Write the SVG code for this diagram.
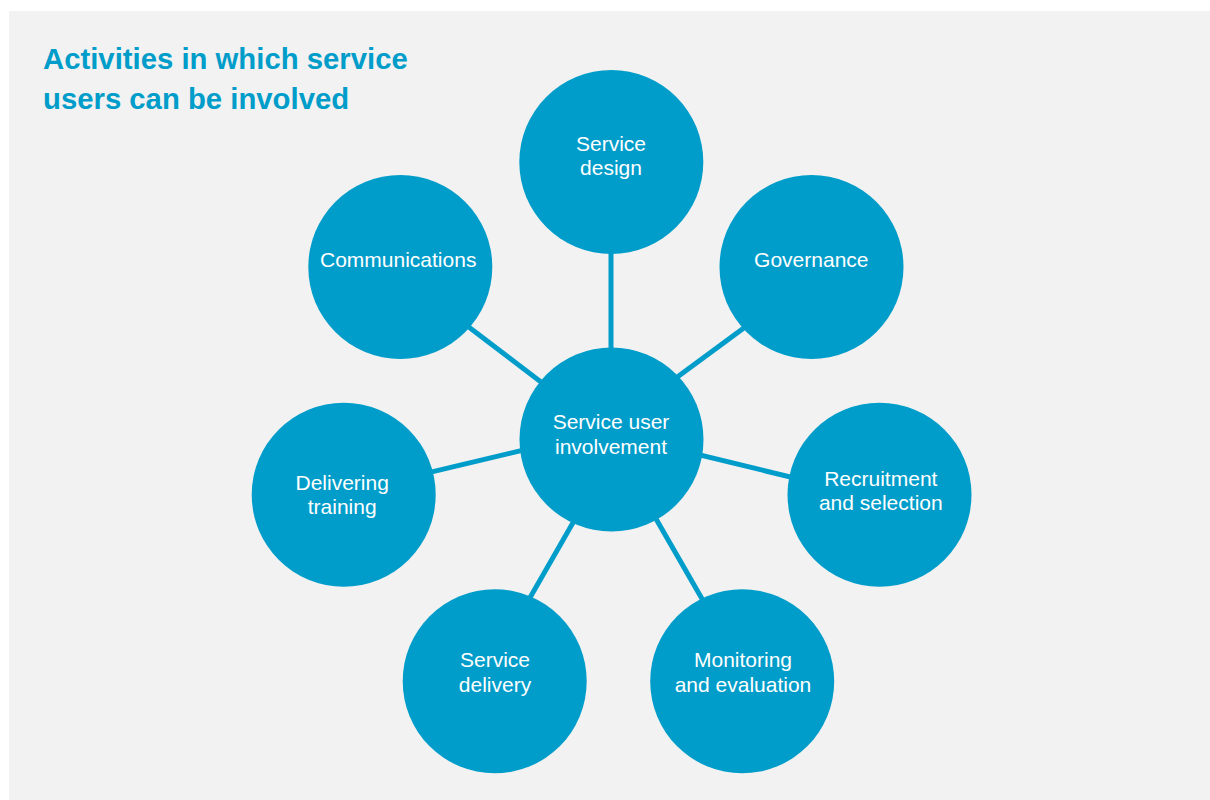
<svg xmlns="http://www.w3.org/2000/svg" width="1210" height="800" viewBox="0 0 1210 800">
<style>
.bg{fill:#f2f2f2}
.title{font-family:"Liberation Sans",Arial,sans-serif;font-weight:bold;font-size:29.3px;fill:#009dca}
.node circle{fill:#009dca}
.node text{font-family:"Liberation Sans",Arial,sans-serif;font-size:21px;fill:#ffffff;text-anchor:middle}
.edges line{stroke:#009dca;stroke-width:5}
</style>
<rect class="bg" x="9" y="11" width="1201" height="789"/>
<text class="title" x="43" y="69">Activities in which service</text>
<text class="title" x="43" y="109">users can be involved</text>
<g id="connectors" class="edges">
<line x1="611" y1="439.5" x2="611" y2="162"/>
<line x1="611.5" y1="425.5" x2="811.5" y2="278"/>
<line x1="611.5" y1="435.7" x2="400.3" y2="275"/>
<line x1="611.5" y1="429" x2="343.7" y2="492.9"/>
<line x1="611.5" y1="433.5" x2="879.5" y2="498.6"/>
<line x1="620.7" y1="439.5" x2="482" y2="681.3"/>
<line x1="610.4" y1="439.5" x2="749.4" y2="681.3"/>
</g>
<g id="node-center" class="node">
<circle cx="611.5" cy="439.5" r="92"/>
<text x="611" y="429.3">Service user</text>
<text x="611" y="454">involvement</text>
</g>
<g id="node-service-design" class="node">
<circle cx="611.3" cy="162" r="92"/>
<text x="611" y="150.7">Service</text>
<text x="611" y="174.5">design</text>
</g>
<g id="node-governance" class="node">
<circle cx="811.5" cy="267" r="92"/>
<text x="811.3" y="266.7">Governance</text>
</g>
<g id="node-communications" class="node">
<circle cx="400.3" cy="267" r="92"/>
<text x="398.2" y="266.7">Communications</text>
</g>
<g id="node-delivering-training" class="node">
<circle cx="343.7" cy="494.7" r="92"/>
<text x="342.2" y="490">Delivering</text>
<text x="342.2" y="513.5">training</text>
</g>
<g id="node-recruitment" class="node">
<circle cx="879.5" cy="494.7" r="92"/>
<text x="880.8" y="485.7">Recruitment</text>
<text x="880.8" y="510">and selection</text>
</g>
<g id="node-service-delivery" class="node">
<circle cx="494.7" cy="681.3" r="92"/>
<text x="495" y="667.3">Service</text>
<text x="495" y="691.5">delivery</text>
</g>
<g id="node-monitoring" class="node">
<circle cx="742.2" cy="681.3" r="92"/>
<text x="743" y="667.3">Monitoring</text>
<text x="743" y="691.5">and evaluation</text>
</g>
</svg>
